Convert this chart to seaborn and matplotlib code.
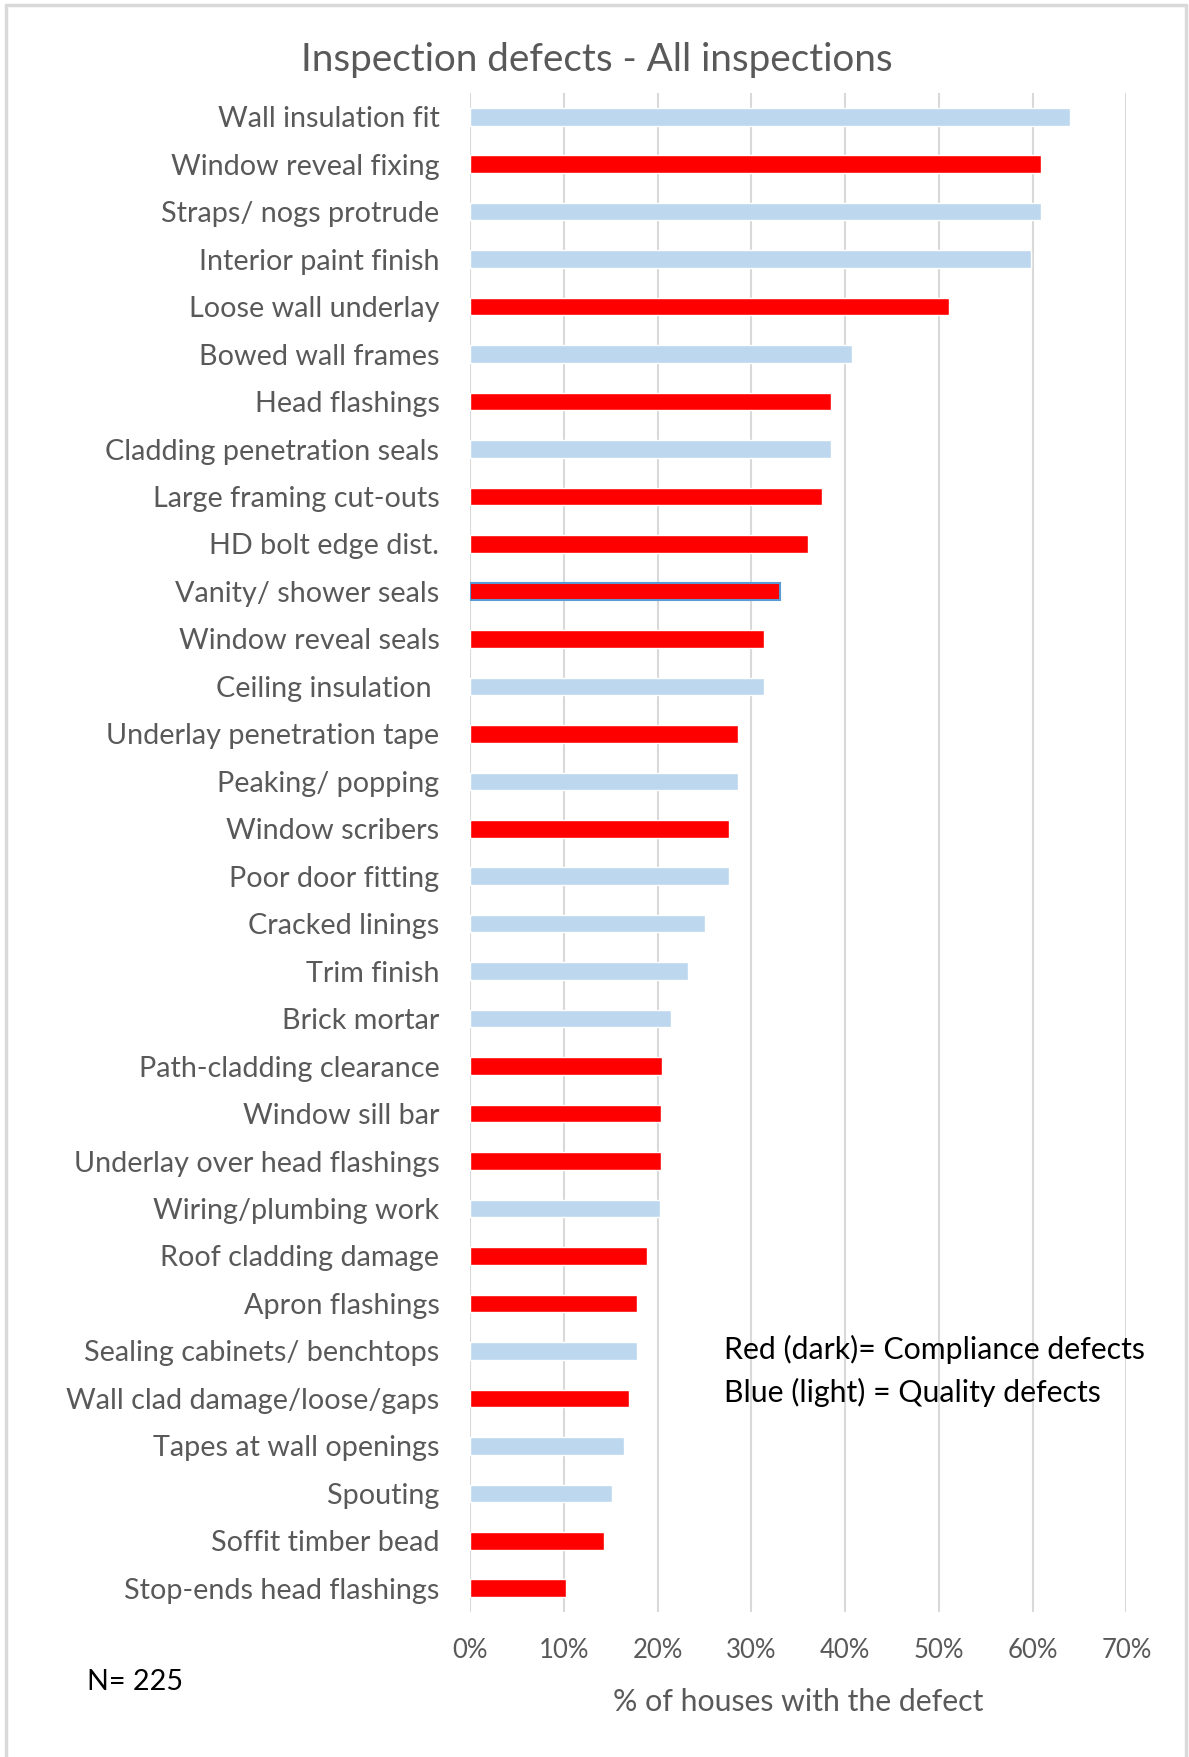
import matplotlib
matplotlib.use("Agg")
import matplotlib.pyplot as plt
import seaborn as sns
import pandas as pd
from matplotlib.lines import Line2D
from matplotlib.ticker import PercentFormatter

categories = [
    'Wall insulation fit', 'Window reveal fixing', 'Straps/ nogs protrude',
    'Interior paint finish', 'Loose wall underlay', 'Bowed wall frames',
    'Head flashings', 'Cladding penetration seals', 'Large framing cut-outs',
    'HD bolt edge dist.', 'Vanity/ shower seals', 'Window reveal seals',
    'Ceiling insulation ', 'Underlay penetration tape', 'Peaking/ popping',
    'Window scribers', 'Poor door fitting', 'Cracked linings', 'Trim finish',
    'Brick mortar', 'Path-cladding clearance', 'Window sill bar',
    'Underlay over head flashings', 'Wiring/plumbing work',
    'Roof cladding damage', 'Apron flashings', 'Sealing cabinets/ benchtops',
    'Wall clad damage/loose/gaps', 'Tapes at wall openings', 'Spouting',
    'Soffit timber bead', 'Stop-ends head flashings',
]
values = [
    64.0, 60.9, 60.9, 59.8, 51.1, 40.7, 38.5, 38.5, 37.5, 36.0,
    33.1, 31.3, 31.3, 28.6, 28.6, 27.6, 27.6, 25.1, 23.2, 21.4,
    20.5, 20.4, 20.4, 20.3, 18.9, 17.8, 17.8, 17.0, 16.4, 15.1,
    14.3, 10.2,
]
C, Q = 'Compliance', 'Quality'
defect_type = [
    Q, C, Q, Q, C, Q, C, Q, C, C,
    C, C, Q, C, Q, C, Q, Q, Q, Q,
    C, C, C, Q, C, C, Q, C, Q, Q,
    C, C,
]

df = pd.DataFrame({'defect': categories, 'pct': values, 'type': defect_type})

sns.set_style("white")
plt.rcParams['font.family'] = ['Lato', 'DejaVu Sans']
grey = '#595959'

fig = plt.figure(figsize=(11.89, 17.57), dpi=100)
ax = fig.add_axes([470 / 1189, 1 - 1612 / 1757, 656.4 / 1189, 1519 / 1757])

sns.barplot(data=df, y='defect', x='pct', hue='type', order=categories,
            palette={C: '#FF0000', Q: '#BDD7EE'}, dodge=False, width=0.37,
            legend=False, ax=ax, orient='h', saturation=1)

# outlined bar (Vanity/ shower seals)
for p in ax.patches:
    yc = p.get_y() + p.get_height() / 2
    if abs(yc - categories.index('Vanity/ shower seals')) < 0.01:
        p.set_edgecolor('#5B9BD5')
        p.set_linewidth(1.5)

ax.set_xlim(0, 70)
ax.set_xticks(range(0, 71, 10))
ax.xaxis.set_major_formatter(PercentFormatter(decimals=0))
ax.grid(axis='x', color='#D9D9D9', linewidth=1.5)
ax.set_axisbelow(True)
for s in ax.spines.values():
    s.set_visible(False)
ax.tick_params(axis='y', length=0, pad=22, labelsize=20.7, labelcolor=grey)
ax.tick_params(axis='x', length=0, pad=19, labelsize=18.5, labelcolor=grey)
ax.set_ylabel('')
ax.set_xlabel('% of houses with the defect', fontsize=21.8, color=grey, labelpad=18)

fig.text(597 / 1189, 1 - 60 / 1757, 'Inspection defects - All inspections',
         ha='center', va='center', fontsize=27.8, color=grey)
fig.text(724 / 1189, 1 - 1349 / 1757, 'Red (dark)= Compliance defects',
         ha='left', va='center', fontsize=21.8, color='black')
fig.text(724 / 1189, 1 - 1392 / 1757, 'Blue (light) = Quality defects',
         ha='left', va='center', fontsize=21.8, color='black')
fig.text(87 / 1189, 1 - 1682 / 1757, 'N= 225',
         ha='left', va='center', fontsize=20.7, color='black')

# chart area border (top, left, right)
bc = '#D9D9D9'
fig.add_artist(Line2D([6 / 1189, 1186 / 1189], [1 - 5 / 1757, 1 - 5 / 1757], color=bc, lw=2.5))
fig.add_artist(Line2D([6 / 1189, 6 / 1189], [0, 1 - 5 / 1757], color=bc, lw=2.5))
fig.add_artist(Line2D([1186 / 1189, 1186 / 1189], [0, 1 - 5 / 1757], color=bc, lw=2.5))

plt.savefig('out.png', dpi=100)
